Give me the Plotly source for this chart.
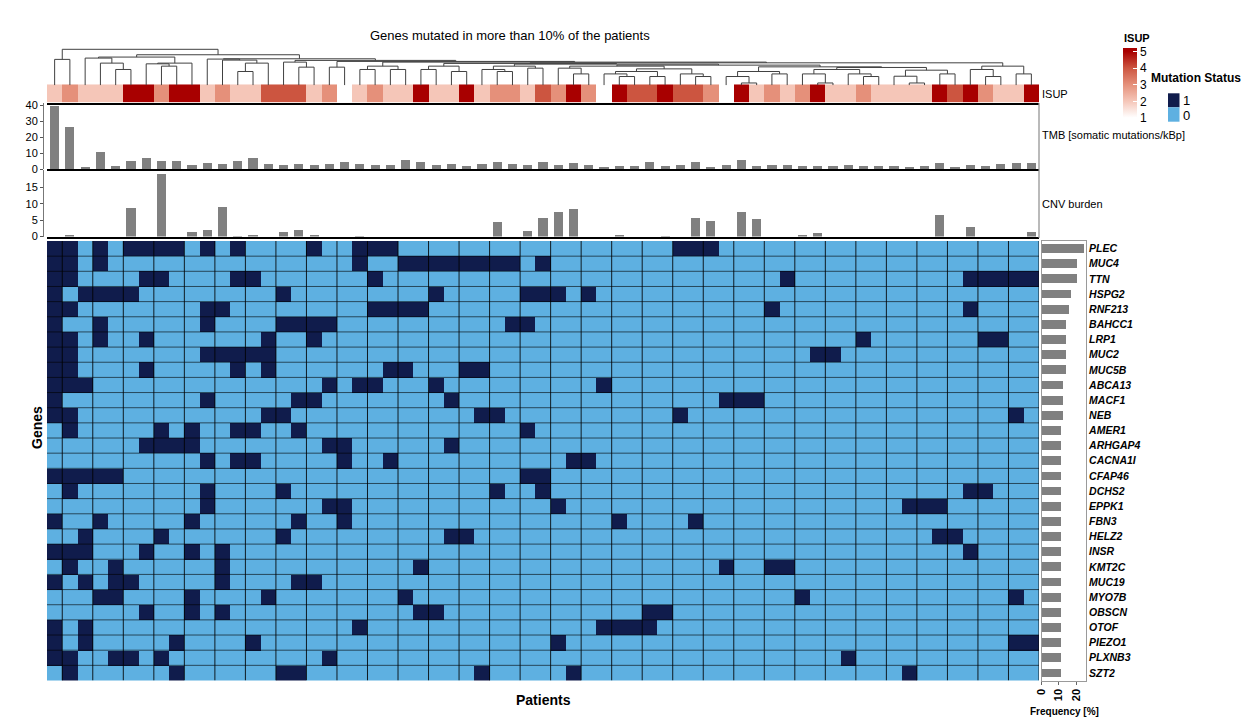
import plotly.graph_objects as go
import numpy as np

W, H = 1242, 722
FONT = "Liberation Sans, Arial, sans-serif"

# ---------------- data ----------------
genes = ["PLEC", "MUC4", "TTN", "HSPG2", "RNF213", "BAHCC1", "LRP1", "MUC2", "MUC5B",
         "ABCA13", "MACF1", "NEB", "AMER1", "ARHGAP4", "CACNA1I", "CFAP46", "DCHS2",
         "EPPK1", "FBN3", "HELZ2", "INSR", "KMT2C", "MUC19", "MYO7B", "OBSCN", "OTOF",
         "PIEZO1", "PLXNB3", "SZT2"]

n_patients = 65

# patient (column) indices carrying a mutation, per gene
mutated = {
    "PLEC": [0, 1, 3, 5, 6, 7, 8, 10, 12, 17, 20, 21, 22, 41, 42, 43],
    "MUC4": [0, 1, 3, 20, 23, 24, 25, 26, 27, 28, 29, 30, 32],
    "TTN": [0, 1, 6, 7, 12, 13, 21, 48, 60, 61, 62, 63, 64],
    "HSPG2": [0, 2, 3, 4, 5, 15, 25, 31, 32, 33, 35],
    "RNF213": [0, 1, 10, 11, 21, 22, 23, 24, 47, 60],
    "BAHCC1": [0, 3, 10, 15, 16, 17, 18, 30, 31],
    "LRP1": [0, 1, 3, 6, 14, 17, 53, 61, 62],
    "MUC2": [0, 1, 10, 11, 12, 13, 14, 50, 51],
    "MUC5B": [0, 1, 6, 12, 14, 22, 23, 27, 28],
    "ABCA13": [0, 1, 2, 18, 20, 21, 25, 36],
    "MACF1": [0, 10, 16, 17, 26, 44, 45, 46],
    "NEB": [0, 1, 14, 15, 28, 29, 41, 63],
    "AMER1": [1, 7, 9, 12, 13, 16, 31],
    "ARHGAP4": [6, 7, 8, 9, 18, 19, 26],
    "CACNA1I": [10, 12, 13, 19, 22, 34, 35],
    "CFAP46": [0, 1, 2, 3, 4, 31, 32],
    "DCHS2": [1, 10, 15, 29, 32, 60, 61],
    "EPPK1": [10, 18, 19, 33, 56, 57, 58],
    "FBN3": [0, 3, 9, 16, 19, 37, 42],
    "HELZ2": [2, 7, 15, 26, 27, 58, 59],
    "INSR": [0, 1, 2, 6, 9, 11, 60],
    "KMT2C": [1, 4, 11, 24, 44, 47, 48],
    "MUC19": [0, 2, 4, 5, 11, 16, 17],
    "MYO7B": [3, 4, 9, 14, 23, 49, 63],
    "OBSCN": [6, 9, 11, 24, 25, 39, 40],
    "OTOF": [0, 2, 20, 36, 37, 38, 39],
    "PIEZO1": [0, 2, 8, 13, 33, 63, 64],
    "PLXNB3": [0, 1, 4, 5, 7, 18, 52],
    "SZT2": [1, 8, 15, 16, 28, 34, 56],
}

isup = [2, 3, 2, 2, 2, 5, 5, 3, 5, 5, 2, 3, 2, 2, 4, 4, 4, 2, 3, 1,
        2, 3, 2, 2, 5, 2, 2, 5, 2, 3, 3, 2, 4, 3, 5, 3, 1, 5, 4, 4,
        5, 4, 4, 3, 1, 5, 2, 3, 2, 3, 5, 2, 2, 3, 2, 2, 2, 2, 5, 4,
        5, 3, 2, 2, 5]
isup_levels = [1, 2, 3, 4, 5]
isup_colors = ["#ffffff", "#f5c6b8", "#e5907a", "#cc5540", "#a80000"]

tmb = [39.2, 26.0, 1.2, 10.8, 1.7, 4.8, 6.5, 4.8, 5.0, 2.5, 3.7, 3.1, 4.8, 6.5, 3.1,
       2.5, 3.1, 2.1, 3.1, 4.2, 2.9, 2.5, 2.5, 5.4, 4.2, 2.5, 3.1, 1.9, 3.1, 4.2,
       2.7, 2.1, 4.2, 2.1, 3.3, 2.5, 1.0, 1.7, 1.7, 4.2, 1.5, 2.1, 4.2, 1.0, 2.1,
       5.4, 1.7, 2.1, 2.1, 1.5, 1.5, 1.5, 2.1, 1.5, 1.5, 1.5, 1.0, 1.5, 3.5, 0.8,
       2.5, 1.5, 3.1, 3.5, 3.5]

cnv = [0, 0.4, 0, 0, 0, 8.6, 0, 19.1, 0, 1.3, 2.1, 8.9, 0.15, 0.3, 0, 1.5, 2.1, 0.4,
       0, 0, 0.15, 0, 0, 0, 0, 0, 0, 0, 0, 4.5, 0, 1.6, 5.5, 7.4, 8.5, 0, 0, 0.3,
       0, 0, 0.15, 0, 5.5, 4.8, 0, 7.4, 5.2, 0, 0, 0.3, 1.2, 0, 0, 0, 0, 0, 0, 0,
       6.7, 0, 2.8, 0, 0, 0, 1.3]

# dendrogram: [left, right, merge height]; leaves are patient column indices
d_left = [[2, [3, [4, 5, 15.7], 22], 27], [[6, [7, 8, 19], 21.3], 9, 22], 28]
d_b1 = [10, [11, [[12, 13, 13.7], 14, 22], 25], 26]
d_c = [15, [16, 17, 18], 23]
d_e1 = [[20, 21, 15.7], [22, 23, 15.7], 19]
d_k = [[24, 25, 15.7], [26, 27, 13.7], 19]
d_n = [[28, [29, 30, 13.7], 15.7], [31, 32, 17], 19]
d_u = [[33, [34, 35, 11.3], 17],
       [[[36, [37, 38, 8.7], 11.3], [39, 40, 8.7], 13.7], [41, [42, 43, 8.7], 11.3], 16.3], 19]
d_w = [[[44, [45, 46, 2.3], 8.7], [47, 48, 11.3], 13.7],
       [[[49, [50, 51, 2.3], 11.3], [52, [53, 54, 8.7], 11.3], 15.7],
        [[55, [56, 57, 2.3], 9], [58, 59, 11.3], 15], 17.7], 18.3]
d_f = [[60, [61, 62, 8.7], 15.7], [63, 64, 11.3], 19]
d_e = [d_e1, [[d_k, [d_n, [d_u, d_w, 20], 21], 21.7], d_f, 22.3], 23]
d_b = [d_b1, [d_c, [[18, 19, 18], d_e, 23.7], 24.7], 26.3]
dendro = [[0, 1, 25.7], [d_left, d_b, 30.3], 35.7]

# ---------------- styling ----------------
DARK = "#101c4c"
LIGHT = "#5eb0e1"
GRAY = "#808080"


def px_x(p):
    return p / W


def px_y(p):
    return 1 - p / H


X_DOM = [px_x(47), px_x(1039)]

mat = np.zeros((len(genes), n_patients))
for j, g in enumerate(genes):
    mat[j, mutated[g]] = 1
freq = [100.0 * len(mutated[g]) / n_patients for g in genes]
cols = list(range(n_patients))

# ISUP colour scale with a little padding beyond 1 and 5 (as in the legend)
Z_LO, Z_HI = 0.8, 5.2
isup_scale = [[0, isup_colors[0]]]
for lv, c in zip(isup_levels, isup_colors):
    isup_scale.append([(lv - Z_LO) / (Z_HI - Z_LO), c])
isup_scale.append([1, isup_colors[-1]])


def dendro_segments(node):
    if isinstance(node, int):
        return float(node), 0.0, [], []
    l, r, h = node
    xl, yl, xs1, ys1 = dendro_segments(l)
    xr, yr, xs2, ys2 = dendro_segments(r)
    xs = xs1 + xs2 + [xl, xl, xr, xr, None]
    ys = ys1 + ys2 + [yl, h, h, yr, None]
    return (xl + xr) / 2, h, xs, ys


_, _, dx, dy = dendro_segments(dendro)

fig = go.Figure()

# main mutation heatmap
fig.add_trace(go.Heatmap(
    z=mat, x=cols, y=list(range(len(genes))),
    colorscale=[[0, LIGHT], [0.5, LIGHT], [0.5, DARK], [1, DARK]],
    zmin=0, zmax=1, showscale=False, hoverinfo="skip",
    xaxis="x", yaxis="y"))

# frequency bars
fig.add_trace(go.Bar(
    x=freq, y=list(range(len(genes))), orientation="h", width=0.58,
    marker=dict(color=GRAY, line=dict(width=0)), xaxis="x2", yaxis="y2",
    showlegend=False, hoverinfo="skip"))

# ISUP annotation strip
fig.add_trace(go.Heatmap(
    z=[isup], x=cols, y=[0], zmin=Z_LO, zmax=Z_HI,
    colorscale=isup_scale,
    hoverinfo="skip", xaxis="x3", yaxis="y3",
    colorbar=dict(
        thickness=14, len=72.5 / H, lenmode="fraction",
        x=px_x(1122.5), xanchor="left", y=px_y(48.3), yanchor="top",
        tickvals=isup_levels, ticks="inside", ticklen=4, tickcolor="white",
        outlinewidth=0, tickfont=dict(size=12, family=FONT), xpad=0, ypad=0)))

# TMB bars
fig.add_trace(go.Bar(
    x=cols, y=tmb, width=0.6, marker=dict(color=GRAY, line=dict(width=0)),
    xaxis="x4", yaxis="y4", showlegend=False, hoverinfo="skip"))

# CNV bars
fig.add_trace(go.Bar(
    x=cols, y=cnv, width=0.6, marker=dict(color=GRAY, line=dict(width=0)),
    xaxis="x5", yaxis="y5", showlegend=False, hoverinfo="skip"))

# dendrogram
fig.add_trace(go.Scatter(
    x=dx, y=dy, mode="lines", line=dict(color="#404040", width=1),
    xaxis="x6", yaxis="y6", showlegend=False, hoverinfo="skip"))

hidden = dict(showticklabels=False, showgrid=False, zeroline=False, ticks="",
              showline=False, automargin=False)

fig.update_layout(
    width=W, height=H, margin=dict(l=0, r=0, t=0, b=0, pad=0, autoexpand=False),
    paper_bgcolor="white", plot_bgcolor="rgba(0,0,0,0)",
    font=dict(family=FONT, color="black", size=11),
    showlegend=False, bargap=0,
    xaxis=dict(domain=X_DOM, range=[-0.5, n_patients - 0.5], anchor="y", **hidden),
    yaxis=dict(domain=[px_y(680.5), px_y(241)], range=[len(genes) - 0.5, -0.5], anchor="x", **hidden),
    xaxis2=dict(domain=[px_x(1041.5), px_x(1086)], range=[0, 25.8], anchor="y2",
                tickvals=[0, 10, 20], ticktext=["<b>0</b>", "<b>10</b>", "<b>20</b>"],
                tickangle=-90, ticks="outside", ticklen=3, tickcolor="#666",
                showline=True, mirror=True, linecolor="#9a9a9a", linewidth=1,
                showgrid=False, zeroline=False, tickfont=dict(size=11), automargin=False),
    yaxis2=dict(domain=[px_y(680.5), px_y(241)], range=[len(genes) - 0.5, -0.5], anchor="x2",
                side="right", tickvals=list(range(len(genes))),
                ticktext=["<b><i>%s</i></b>" % g for g in genes], ticks="",
                showline=True, mirror=True, linecolor="#9a9a9a", linewidth=1,
                showgrid=False, zeroline=False, tickfont=dict(size=10.5), automargin=False),
    xaxis3=dict(domain=X_DOM, range=[-0.5, n_patients - 0.5], anchor="y3",
                showticklabels=False, showgrid=False, zeroline=False, ticks="",
                showline=True, linecolor="black", linewidth=1.5, automargin=False),
    yaxis3=dict(domain=[px_y(102.5), px_y(84.3)], range=[-0.5, 0.5], anchor="x3", **hidden),
    xaxis4=dict(domain=X_DOM, range=[-0.5, n_patients - 0.5], anchor="y4",
                showticklabels=False, showgrid=False, zeroline=False, ticks="",
                showline=True, linecolor="black", linewidth=2, automargin=False),
    yaxis4=dict(domain=[px_y(169), px_y(103.3)], range=[0, 41.3], anchor="free",
                position=px_x(43), tickvals=[0, 10, 20, 30, 40], ticks="outside",
                ticklen=3, tickcolor="#555", showline=True, linecolor="#777",
                linewidth=1, showgrid=False, zeroline=False, tickfont=dict(size=11),
                automargin=False),
    xaxis5=dict(domain=X_DOM, range=[-0.5, n_patients - 0.5], anchor="y5",
                showticklabels=False, showgrid=False, zeroline=False, ticks="",
                showline=True, linecolor="black", linewidth=2, automargin=False),
    yaxis5=dict(domain=[px_y(236.5), px_y(170)], range=[0, 20.3], anchor="free",
                position=px_x(43), tickvals=[0, 5, 10, 15], ticks="outside",
                ticklen=3, tickcolor="#555", showline=True, linecolor="#777",
                linewidth=1, showgrid=False, zeroline=False, tickfont=dict(size=11),
                automargin=False),
    xaxis6=dict(domain=X_DOM, range=[-0.5, n_patients - 0.5], anchor="y6", **hidden),
    yaxis6=dict(domain=[px_y(85.3), px_y(48)], range=[0, 37], anchor="x6", **hidden),
)

shapes = []
# heatmap cell grid
for i in range(1, n_patients + 1, 2):
    shapes.append(dict(type="line", xref="x", yref="y", x0=i - 0.5, x1=i - 0.5,
                       y0=-0.5, y1=len(genes) - 0.5,
                       line=dict(color="rgba(0,0,0,0.85)", width=1)))
for j in range(1, len(genes)):
    shapes.append(dict(type="line", xref="x", yref="y", x0=-0.5, x1=n_patients - 0.5,
                       y0=j - 0.5, y1=j - 0.5,
                       line=dict(color="rgba(0,0,0,0.6)", width=1)))
# right frame of the bar annotations
shapes.append(dict(type="line", xref="paper", yref="paper", x0=px_x(1039), x1=px_x(1039),
                   y0=px_y(238), y1=px_y(103), line=dict(color="#8c8c8c", width=1.2)))
# mutation status legend keys
shapes.append(dict(type="rect", xref="paper", yref="paper", x0=px_x(1168), x1=px_x(1179.5),
                   y0=px_y(107.3), y1=px_y(93.3), fillcolor=DARK, line=dict(width=0)))
shapes.append(dict(type="rect", xref="paper", yref="paper", x0=px_x(1168), x1=px_x(1179.5),
                   y0=px_y(121.7), y1=px_y(107.3), fillcolor=LIGHT, line=dict(width=0)))
fig.update_layout(shapes=shapes)


def ann(text, x, y, size=11, xanchor="left", angle=0, yanchor="middle"):
    return dict(text=text, x=px_x(x), y=px_y(y), xref="paper", yref="paper",
                showarrow=False, xanchor=xanchor, yanchor=yanchor, textangle=angle,
                font=dict(size=size, family=FONT, color="black"))


fig.update_layout(annotations=[
    ann("Genes mutated in more than 10% of the patients", 510, 36, size=13, xanchor="center"),
    ann("<b>ISUP</b>", 1122, 38, size=11),
    ann("ISUP", 1040, 93.5),
    ann("TMB [somatic mutations/kBp]", 1040, 135),
    ann("CNV burden", 1040, 204),
    ann("<b>Mutation Status</b>", 1149, 78, size=12),
    ann("1", 1181, 100.5, size=13),
    ann("0", 1181, 115, size=13),
    ann("<b>Genes</b>", 37, 428, size=14, xanchor="center", angle=-90),
    ann("<b>Patients</b>", 543, 700, size=14, xanchor="center"),
    ann("<b>Frequency [%]</b>", 1064, 711, size=10, xanchor="center"),
])

fig.write_html("out.html", config={"displayModeBar": False},
               post_script="document.body.style.margin='0';document.body.style.overflow='hidden';")
